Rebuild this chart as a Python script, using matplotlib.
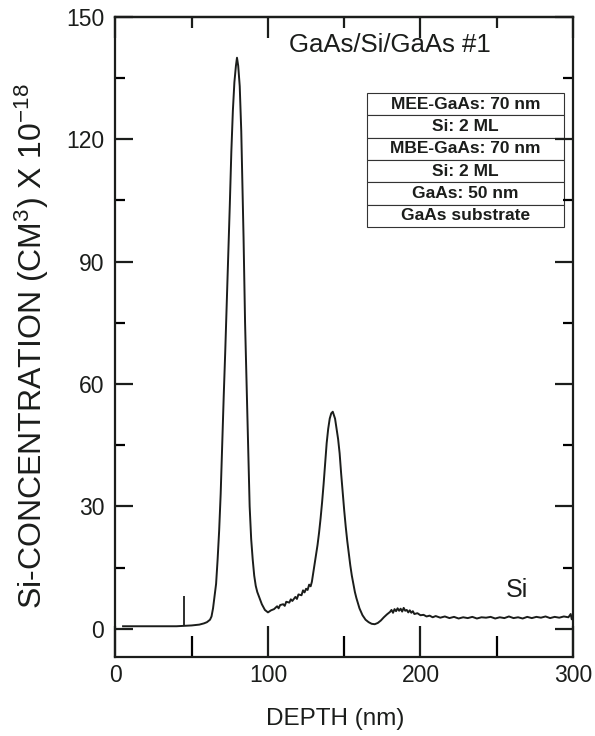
import matplotlib
matplotlib.use("Agg")
import matplotlib.pyplot as plt
from matplotlib.ticker import MultipleLocator

plt.rcParams['font.family'] = ['Liberation Sans', 'DejaVu Sans']
plt.rcParams['mathtext.fontset'] = 'custom'
plt.rcParams['mathtext.rm'] = 'Liberation Sans'
plt.rcParams['mathtext.it'] = 'Liberation Sans'

# ---- data ----
depth = [5, 20, 40, 45, 50, 55, 58, 60, 62, 63, 64, 65, 66, 67, 68, 69, 70, 71, 72, 73,
         74, 75, 76, 77, 78, 79, 79.7, 80.5, 81.5, 82.5, 83.5, 84, 85, 86, 87, 88, 89, 90,
         91, 92, 93, 94, 96, 98, 100, 102, 104, 106, 107, 108, 110, 111, 112, 114, 115,
         116, 118, 119, 120, 122, 123, 124, 125, 126, 127, 128, 128.8, 129.5, 130.5, 131.5,
         132.5, 133.5, 134.5, 135.5, 136.5, 137.5, 138.5, 139.5, 140.5, 141.5, 142.5, 144,
         145, 146, 147, 148, 149, 150, 151, 152, 153, 154, 155, 156, 157, 158, 160, 162,
         164, 166, 168, 170, 172, 174, 176, 178, 180, 181, 182, 183, 184, 185, 186, 187,
         188, 189, 190, 191, 192, 193, 194, 195, 196, 198, 200, 202, 204, 206, 208, 210,
         213, 216, 219, 222, 225, 228, 231, 234, 237, 240, 243, 246, 249, 252, 255, 258,
         261, 264, 267, 270, 273, 276, 279, 282, 285, 288, 291, 294, 297, 298.5, 299.2, 300]
si_conc = [0.6, 0.6, 0.6, 0.7, 0.8, 1.0, 1.3, 1.6, 2.2, 3.0, 5, 8, 11, 17, 24, 33, 45, 57, 68, 80,
           92, 104, 117, 127, 134, 138, 140, 138, 133, 122, 105, 96, 75, 60, 45, 30, 22, 17,
           13, 10.5, 9, 8, 6, 4.6, 4.0, 4.5, 4.8, 5.5, 5.0, 5.8, 6.0, 5.6, 6.6, 6.4, 7.2,
           6.8, 7.8, 7.3, 8.4, 8.2, 9.4, 8.9, 9.8, 9.5, 10.8, 10.4, 11.5, 13.2, 15.5, 18,
           20.5, 23.5, 27, 31, 35.5, 40.5, 45.5, 49, 51.5, 52.8, 53.2, 51.5,
           49, 46.5, 43, 38, 33.5, 29, 25, 21.5, 18.5, 15.5, 13, 11, 9, 7.5, 5, 3.3,
           2.2, 1.6, 1.2, 1.1, 1.4, 2.0, 2.8, 3.5, 4.1, 4.6, 3.9, 4.8, 4.3, 5.0, 4.4, 4.9,
           4.2, 5.1, 4.4, 4.6, 4.0, 4.5, 3.9, 4.3, 3.6, 3.8, 3.3, 3.4, 3.0, 3.2, 2.8, 3.1,
           2.7, 3.0, 2.6, 2.9, 2.5, 2.8, 2.6, 2.9, 2.5, 2.8, 2.7, 2.9, 2.5, 2.8, 2.6, 3.0,
           2.6, 2.8, 2.5, 2.9, 2.6, 2.9, 2.7, 3.0, 2.6, 2.9, 2.7, 3.0, 2.8, 3.6, 2.3, 3.3]

marker_depth = 45
marker_top = 8.0
marker_base = 0.7

layers = ["MEE-GaAs: 70 nm", "Si: 2 ML", "MBE-GaAs: 70 nm",
          "Si: 2 ML", "GaAs: 50 nm", "GaAs substrate"]

title_text = "GaAs/Si/GaAs #1"
element_text = "Si"
x_ticks = [0, 100, 200, 300]
y_ticks = [0, 30, 60, 90, 120, 150]

# ---- figure ----
ink = '#1b1d1b'
fig = plt.figure(figsize=(5.95, 7.36), dpi=100)
ax = fig.add_axes([0.194, 0.107, 0.769, 0.870])

ax.plot(depth, si_conc, color=ink, lw=1.4)
ax.vlines(marker_depth, marker_base, marker_top, color=ink, lw=1.3)

ax.set_xlim(0, 300)
ax.set_ylim(-7, 150)
ax.set_xticks(x_ticks)
ax.set_yticks(y_ticks)
ax.xaxis.set_minor_locator(MultipleLocator(50))
ax.yaxis.set_minor_locator(MultipleLocator(15))

for s in ax.spines.values():
    s.set_linewidth(1.6)
    s.set_color(ink)

ax.tick_params(axis='x', which='major', direction='in', length=22, width=1.6,
               top=False, bottom=True, labelsize=16.5, pad=5, colors=ink)
ax.tick_params(axis='x', which='minor', direction='in', length=15, width=1.6,
               top=False, bottom=True)
ax.tick_params(axis='y', which='major', direction='in', length=13, width=1.6,
               left=True, right=True, labelsize=16.5, pad=8, colors=ink)
ax.tick_params(axis='y', which='minor', direction='in', length=7, width=1.6,
               left=True, right=True)

top = ax.secondary_xaxis('top')
top.set_xticks(x_ticks)
top.xaxis.set_minor_locator(MultipleLocator(50))
top.tick_params(which='major', direction='in', length=15, width=1.6, labeltop=False, colors=ink)
top.tick_params(which='minor', direction='in', length=8, width=1.6, colors=ink)
top.spines['top'].set_linewidth(1.6)

ax.set_xlabel("DEPTH (nm)", fontsize=17.5, color=ink)
ax.xaxis.set_label_coords(0.48, -0.079)
ax.set_ylabel("Si-CONCENTRATION (CM$^3$) X 10$^{-18}$", fontsize=23, color=ink)
ax.yaxis.set_label_coords(-0.140, 0.486)

ax.text(0.60, 0.956, title_text, transform=ax.transAxes, ha='center', va='center',
        fontsize=18.5, color=ink)
ax.text(0.877, 0.105, element_text, transform=ax.transAxes, ha='center', va='center',
        fontsize=18, color=ink)

tbl = ax.table(cellText=[[l] for l in layers], cellLoc='center',
               bbox=[0.55, 0.672, 0.43, 0.209])
tbl.auto_set_font_size(False)
for (r, c), cell in tbl.get_celld().items():
    cell.set_linewidth(0.8)
    cell.set_edgecolor('#333333')
    cell.get_text().set_fontsize(12.5)
    cell.get_text().set_fontweight('bold')
    cell.get_text().set_color(ink)

fig.savefig("out.png", dpi=100)
